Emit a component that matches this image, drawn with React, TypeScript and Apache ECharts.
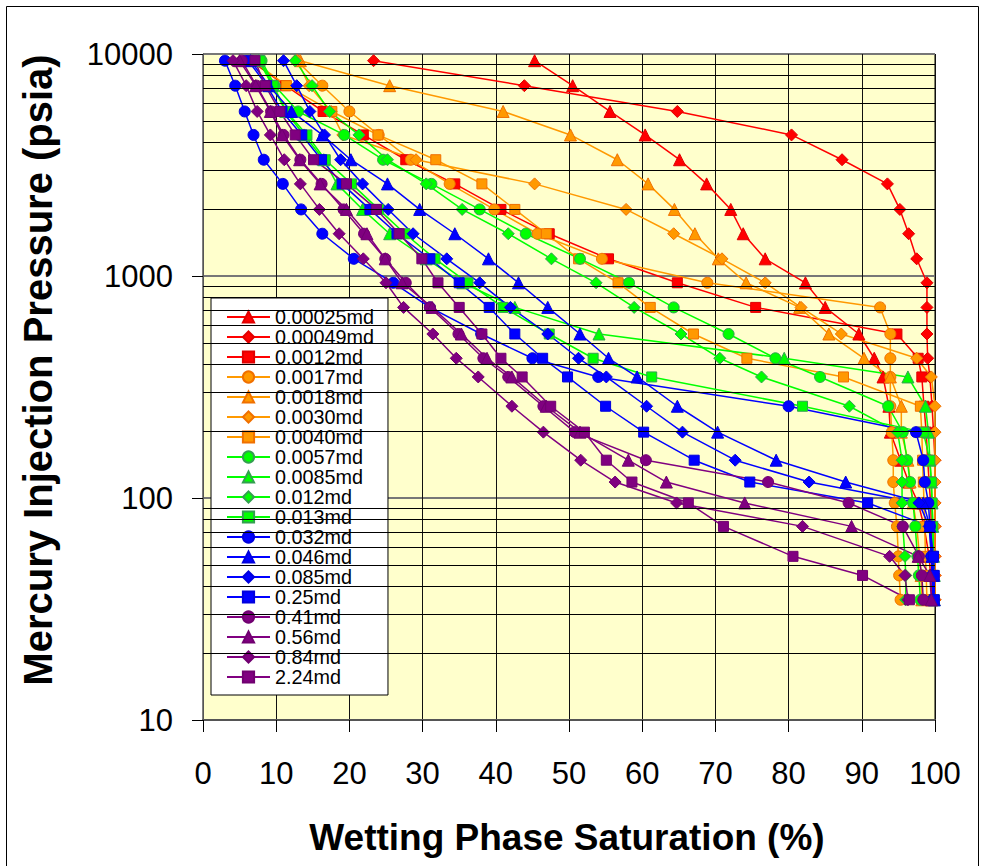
import React, { useEffect, useRef } from "react";
import * as echarts from "echarts";

// Capillary pressure steps (psia), shared by all samples
const pressures = [9330, 7200, 5510, 4320, 3340, 2600, 1995, 1550, 1195, 932, 722, 548, 426, 351, 259, 198, 148, 118, 95, 74.5, 54.6, 44.8, 34.8];

// Wetting phase saturation (%) per sample, one value per pressure step
const s00025 = [45.3, 50.5, 55.6, 60.4, 65.1, 68.8, 72.1, 73.8, 76.8, 82.3, 85.0, 89.6, 91.7, 92.9, 93.7, 93.9, 95.3, 96.4, 97.7, 98.5, 99.2, 99.4, 99.6];
const s00049 = [23.3, 43.9, 64.8, 80.4, 87.3, 93.5, 95.2, 96.4, 97.5, 98.9, 98.9, 98.9, 99.0, 99.3, 99.6, 99.8, 100, 100, 100, 100, 100, 100, 100];
const s0012 = [6.5, 11.3, 16.4, 21.9, 27.7, 34.4, 40.7, 47.3, 55.4, 64.8, 75.5, 94.8, 97.7, 98.2, 98.5, 98.8, 99.0, 99.2, 99.4, 99.5, 99.6, 99.7, 99.8];
const s0017 = [12.8, 16.3, 20.0, 24.0, 28.4, 33.7, 39.8, 45.7, 54.5, 68.9, 92.5, 93.9, 93.9, 93.9, 93.9, 94.1, 94.3, 94.3, 94.5, 94.8, 95.0, 95.1, 95.3];
const s0018 = [13.3, 25.5, 41.0, 50.2, 56.6, 60.8, 64.4, 67.2, 70.4, 74.2, 81.5, 85.5, 90.3, 93.9, 95.4, 95.4, 96.3, 96.6, 97.0, 97.5, 97.9, 98.1, 98.2];
const s0030 = [12.9, 14.5, 17.5, 19.1, 29.1, 45.3, 57.8, 64.3, 70.9, 76.8, 81.7, 87.2, 97.5, 99.5, 100, 100, 100, 100, 100, 100, 100, 100, 100];
const s0040 = [6.8, 11.4, 17.6, 23.9, 31.8, 38.1, 42.6, 46.9, 51.3, 56.7, 61.1, 67.0, 74.3, 87.5, 98.0, 98.2, 98.3, 98.4, 98.5, 98.6, 98.7, 98.8, 98.9];
const s0057 = [8.0, 9.8, 13.0, 19.3, 24.6, 31.2, 37.8, 44.1, 51.5, 58.2, 64.3, 71.8, 78.2, 84.3, 93.6, 95.6, 96.2, 96.6, 97.0, 97.3, 97.6, 97.8, 98.0];
const s0085 = [7.6, 9.5, 11.3, 13.8, 16.5, 18.3, 21.8, 25.5, 30.5, 35.5, 42.6, 54.1, 79.4, 96.3, 98.7, 99.1, 99.3, 99.5, 99.6, 99.7, 99.8, 99.9, 99.9];
const s012 = [12.6, 14.9, 17.3, 21.3, 25.2, 30.5, 35.4, 41.7, 47.6, 53.7, 58.9, 65.3, 70.6, 76.3, 88.3, 94.9, 95.5, 95.5, 95.5, 95.6, 95.9, 96.0, 96.0];
const s013 = [7.8, 9.6, 11.4, 14.2, 16.7, 20.3, 24.0, 27.6, 31.7, 36.2, 41.0, 47.3, 53.3, 61.3, 81.9, 98.4, 99.3, 99.5, 99.6, 99.7, 99.8, 99.8, 99.9];
const s032 = [3.0, 4.4, 5.7, 6.9, 8.3, 10.9, 13.4, 16.3, 20.6, 26.0, 31.0, 38.0, 45.0, 54.0, 80.0, 97.4, 98.4, 98.6, 99.1, 99.3, 99.5, 99.6, 99.7];
const s046 = [6.5, 9.0, 12.1, 16.3, 20.2, 25.2, 29.6, 34.4, 39.0, 43.1, 47.1, 51.5, 55.4, 59.3, 64.8, 70.3, 78.3, 87.8, 98.4, 99.3, 99.6, 99.8, 99.9];
const s085 = [11.0, 12.8, 14.6, 16.6, 18.8, 21.8, 25.3, 28.7, 33.3, 37.8, 42.0, 47.1, 51.3, 55.1, 60.6, 65.5, 72.7, 82.8, 97.8, 99.2, 99.5, 99.7, 99.8];
const s25 = [6.2, 8.7, 10.8, 13.5, 16.2, 19.0, 22.8, 26.5, 31.0, 35.0, 39.1, 42.6, 46.4, 49.8, 55.0, 60.2, 67.1, 74.7, 90.8, 99.3, 99.8, 99.9, 99.9];
const s41 = [5.3, 7.3, 9.3, 11.0, 13.3, 16.2, 19.2, 22.0, 24.9, 27.7, 31.0, 34.9, 38.3, 41.7, 46.5, 50.8, 60.5, 77.2, 88.2, 95.6, 97.8, 98.2, 98.4];
const s56 = [5.0, 7.2, 9.2, 10.8, 13.2, 16.0, 19.6, 22.4, 24.9, 27.2, 31.3, 35.3, 38.8, 42.2, 46.9, 51.5, 58.1, 63.3, 74.0, 88.6, 97.7, 99.3, 99.5];
const s84 = [4.1, 5.9, 7.4, 9.2, 11.1, 13.3, 15.9, 18.6, 21.9, 25.0, 27.4, 31.4, 34.6, 37.6, 42.2, 46.5, 51.6, 56.3, 64.7, 81.9, 93.8, 95.9, 96.3];
const s224 = [7.1, 8.5, 10.5, 12.6, 15.1, 19.6, 23.7, 26.8, 29.9, 32.1, 35.0, 38.1, 40.7, 43.6, 47.5, 52.1, 55.1, 58.6, 66.3, 71.1, 80.6, 90.1, 96.5];

const sampleNames = [
  "0.00025md", "0.00049md", "0.0012md", "0.0017md", "0.0018md", "0.0030md", "0.0040md",
  "0.0057md", "0.0085md", "0.012md", "0.013md", "0.032md", "0.046md", "0.085md", "0.25md",
  "0.41md", "0.56md", "0.84md", "2.24md",
];
const sampleSat = [s00025, s00049, s0012, s0017, s0018, s0030, s0040, s0057, s0085, s012, s013, s032, s046, s085, s25, s41, s56, s84, s224];

// axis ticks
const xTicks = { min: 0, max: 100, interval: 10 };
const yRange = { min: 10, max: 10000 };

// styles
const RED = { fill: "#FF0000", border: "#E00000" };
const ORANGE = { fill: "#FF9900", border: "#F07000" };
const GREEN = { fill: "#00FF00", border: "#33A050" };
const BLUE = { fill: "#0000FF", border: "#0000DD" };
const PURPLE = { fill: "#800080", border: "#700070" };
const styleList = [
  [RED, "triangle"], [RED, "diamond"], [RED, "rect"],
  [ORANGE, "circle"], [ORANGE, "triangle"], [ORANGE, "diamond"], [ORANGE, "rect"],
  [GREEN, "circle"], [GREEN, "triangle"], [GREEN, "diamond"], [GREEN, "rect"],
  [BLUE, "circle"], [BLUE, "triangle"], [BLUE, "diamond"], [BLUE, "rect"],
  [PURPLE, "circle"], [PURPLE, "triangle"], [PURPLE, "diamond"], [PURPLE, "rect"],
] as const;
const symbolSizes: Record<string, number> = { circle: 11, triangle: 12, diamond: 12, rect: 10 };

const FONT = "'Liberation Sans', Arial, Helvetica, sans-serif";

function minorLogValues(min: number, max: number): number[] {
  const out: number[] = [];
  for (let d = min; d < max; d *= 10) {
    for (let k = 2; k <= 9; k++) out.push(d * k);
  }
  return out;
}

export default function App() {
  const ref = useRef<HTMLDivElement>(null);
  useEffect(() => {
    if (!ref.current) return;
    const chart = echarts.init(ref.current, null, { renderer: "svg" });

    const lineSeries = sampleNames.map((name, i) => {
      const [col, sym] = styleList[i];
      return {
        name,
        type: "line",
        data: pressures.map((p, k) => [sampleSat[i][k], p]),
        symbol: sym,
        symbolSize: symbolSizes[sym],
        showSymbol: true,
        clip: false,
        lineStyle: { color: col.fill, width: 1.5 },
        itemStyle: { color: col.fill, borderColor: col.border, borderWidth: 1 },
        emphasis: { disabled: true },
        z: 3,
      };
    });

    const gridSeries = {
      name: "_minor",
      type: "line",
      data: [],
      silent: true,
      z: 1,
      markLine: {
        silent: true,
        symbol: ["none", "none"],
        label: { show: false },
        lineStyle: { color: "#000", width: 1, type: "solid" },
        emphasis: { disabled: true },
        data: minorLogValues(yRange.min, yRange.max).map((v) => ({ yAxis: v })),
      },
    };

    const option: any = {
      animation: false,
      backgroundColor: "#FFFFFF",
      grid: {
        left: 203, top: 54, width: 732, height: 666,
        show: true, backgroundColor: "#FFFFCC", borderColor: "#000", borderWidth: 1,
      },
      xAxis: {
        type: "value",
        min: xTicks.min, max: xTicks.max, interval: xTicks.interval,
        axisLine: { show: true, onZero: false, lineStyle: { color: "#555", width: 2 } },
        axisTick: { show: true, length: 12, lineStyle: { color: "#000", width: 1 } },
        axisLabel: { fontSize: 31, color: "#000", fontFamily: FONT, margin: 38 },
        splitLine: { show: true, lineStyle: { color: "#111", width: 1 } },
      },
      yAxis: {
        type: "log", logBase: 10,
        min: yRange.min, max: yRange.max,
        axisLine: { show: true, lineStyle: { color: "#555", width: 1 } },
        axisTick: { show: true, length: 11, lineStyle: { color: "#000", width: 1 } },
        axisLabel: {
          fontSize: 31, color: "#000", fontFamily: FONT, margin: 30,
          formatter: (v: number) => String(Math.round(v)),
        },
        splitLine: { show: true, lineStyle: { color: "#777", width: 2 } },
      },
      legend: {
        data: sampleNames,
        orient: "vertical",
        left: 211, top: 298,
        padding: [9, 14, 8, 15],
        itemGap: 0,
        itemWidth: 43,
        itemHeight: 14,
        selectedMode: false,
        backgroundColor: "#FFFFFF",
        borderColor: "#000",
        borderWidth: 1,
        borderRadius: 0,
        textStyle: { fontSize: 19.8, fontFamily: FONT, color: "#000" },
      },
      graphic: [
        {
          type: "rect", silent: true, z: -1,
          shape: { x: 6.5, y: 6.5, width: 972, height: 870 },
          style: { fill: "none", stroke: "#000", lineWidth: 1 },
        },
        {
          type: "text", x: 567, y: 837,
          style: {
            text: "Wetting Phase Saturation (%)",
            font: `bold 37px ${FONT}`, fill: "#000",
            textAlign: "center", textVerticalAlign: "middle", verticalAlign: "middle",
          },
        },
        {
          type: "text", x: 38, y: 370, rotation: Math.PI / 2,
          style: {
            text: "Mercury Injection Pressure (psia)",
            font: `bold 40px ${FONT}`, fill: "#000",
            textAlign: "center", textVerticalAlign: "middle", verticalAlign: "middle",
          },
        },
      ],
      series: [gridSeries, ...lineSeries],
    };

    chart.setOption(option);
    return () => chart.dispose();
  }, []);

  return (
    <div
      ref={ref}
      style={{ position: "absolute", left: 0, top: 0, width: 984, height: 866 }}
    />
  );
}
